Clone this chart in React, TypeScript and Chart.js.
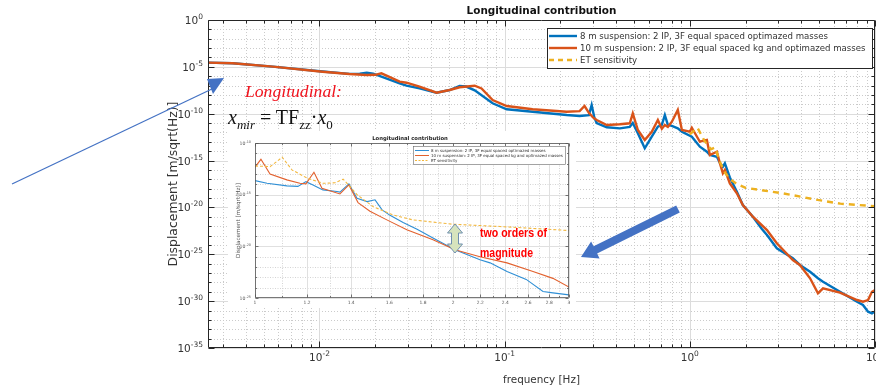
import React, { useEffect, useRef } from "react";
import { Chart, registerables } from "chart.js";

Chart.register(...registerables);

// ---------------- text ----------------
const TITLE = "Longitudinal contribution";
const X_TITLE = "frequency [Hz]";
const Y_TITLE = "Displacement [m/sqrt(Hz)]";
const SERIES_NAMES = [
  "8 m suspension: 2 IP, 3F equal spaced optimazed masses",
  "10 m suspension: 2 IP, 3F equal spaced kg and optimazed masses",
  "ET sensitivity",
];

// ---------------- main axes ----------------
const MAIN_X_MIN = 0.0025;
const MAIN_X_MAX = 10;
const MAIN_Y_MIN_EXP = -35;
const MAIN_Y_MAX_EXP = 0;
const MAIN_X_TICK_EXPS = [-2, -1, 0, 1];
const MAIN_Y_TICK_EXPS = [0, -5, -10, -15, -20, -25, -30, -35];

// ---------------- main data (frequency in Hz, displacement as power of ten) ----------------
const blueFreq = [0.0025, 0.0034, 0.0056, 0.0104, 0.0145, 0.0165, 0.018, 0.0195, 0.0216, 0.0271, 0.0295, 0.0347, 0.0429, 0.0505, 0.0571, 0.062, 0.0689, 0.0861, 0.1026, 0.1416, 0.2163, 0.254, 0.285, 0.295, 0.305, 0.314, 0.356, 0.419, 0.474, 0.492, 0.524, 0.571, 0.623, 0.672, 0.706, 0.733, 0.761, 0.8, 0.861, 0.906, 1.025, 1.133, 1.236, 1.283, 1.4, 1.453, 1.508, 1.546, 1.645, 1.795, 1.933, 2.19, 2.45, 2.61, 2.95, 3.6, 3.93, 4.46, 4.92, 5.24, 6.47, 8.0, 8.61, 9.17, 9.63, 10];
const blueExp = [-4.55, -4.62, -4.98, -5.5, -5.75, -5.72, -5.62, -5.72, -6.03, -6.76, -7.0, -7.29, -7.76, -7.47, -7.04, -7.1, -7.5, -8.89, -9.53, -9.79, -10.14, -10.24, -10.15, -9.07, -10.4, -11.0, -11.45, -11.56, -11.4, -11.0, -12.09, -13.69, -12.45, -11.39, -11.2, -10.14, -11.2, -11.3, -11.56, -11.92, -12.45, -13.52, -14.05, -14.41, -14.59, -15.25, -15.65, -15.3, -16.8, -18.32, -19.74, -20.99, -22.3, -22.94, -24.36, -25.43, -26.14, -26.86, -27.56, -27.93, -28.99, -30.06, -30.41, -31.13, -31.3, -31.1];

const orangeFreq = [0.0025, 0.0034, 0.0056, 0.0104, 0.0145, 0.018, 0.02, 0.0216, 0.024, 0.0271, 0.0295, 0.0347, 0.0429, 0.0505, 0.0571, 0.0689, 0.075, 0.0861, 0.1026, 0.1416, 0.2163, 0.254, 0.27, 0.285, 0.3, 0.314, 0.356, 0.419, 0.474, 0.492, 0.524, 0.571, 0.623, 0.672, 0.706, 0.733, 0.761, 0.8, 0.861, 0.906, 1.0, 1.025, 1.133, 1.236, 1.283, 1.4, 1.453, 1.508, 1.546, 1.645, 1.795, 1.933, 2.19, 2.61, 2.95, 3.6, 3.93, 4.46, 4.92, 5.24, 6.47, 8.0, 8.61, 9.17, 9.63, 10];
const orangeExp = [-4.55, -4.62, -4.98, -5.52, -5.76, -5.87, -5.85, -5.69, -6.1, -6.58, -6.69, -7.11, -7.76, -7.47, -7.18, -7.01, -7.3, -8.54, -9.18, -9.53, -9.79, -9.72, -9.18, -9.9, -10.4, -10.67, -11.2, -11.13, -11.02, -9.96, -11.74, -12.81, -11.92, -10.67, -11.6, -11.2, -11.4, -10.85, -9.6, -11.74, -11.92, -11.5, -12.99, -12.8, -14.41, -14.05, -15.29, -16.36, -16.0, -17.43, -18.49, -19.74, -20.99, -22.41, -23.83, -25.61, -26.14, -27.56, -29.16, -28.63, -29.1, -29.88, -30.06, -29.88, -29.0, -28.81];

const etFreq = [1.0, 1.1, 1.2, 1.3, 1.37, 1.45, 1.55, 1.65, 1.8, 2.0, 2.5, 3.2, 4.9, 6.5, 10];
const etExp = [-12.2, -11.5, -12.9, -13.8, -13.6, -15.1, -16.3, -17.0, -17.5, -17.9, -18.2, -18.5, -19.2, -19.6, -19.87];

// ---------------- inset (zoom 1 Hz .. 3 Hz) ----------------
const INSET_X_MIN = 1;
const INSET_X_MAX = 3;
const INSET_Y_MIN_EXP = -25;
const INSET_Y_MAX_EXP = -10;
const INSET_X_TICKS = [1, 1.2, 1.4, 1.6, 1.8, 2, 2.2, 2.4, 2.6, 2.8, 3];
const INSET_X_TICK_LABELS = ["1", "1.2", "1.4", "1.6", "1.8", "2", "2.2", "2.4", "2.6", "2.8", "3"];
const INSET_Y_TICK_EXPS = [-10, -15, -20, -25];

const insetBlueFreq = [1.0, 1.043, 1.118, 1.162, 1.195, 1.225, 1.268, 1.332, 1.346, 1.389, 1.429, 1.48, 1.522, 1.56, 1.604, 1.679, 1.763, 1.864, 2.013, 2.197, 2.276, 2.415, 2.583, 2.739, 2.836, 3.0];
const insetBlueExp = [-13.64, -13.9, -14.15, -14.2, -13.74, -14.06, -14.54, -14.7, -14.75, -13.96, -15.35, -15.67, -15.5, -16.47, -17.0, -17.7, -18.35, -19.2, -20.34, -21.3, -21.6, -22.43, -23.2, -24.37, -24.5, -24.7];
const insetOrangeFreq = [1.0, 1.021, 1.054, 1.118, 1.17, 1.195, 1.229, 1.264, 1.346, 1.389, 1.434, 1.495, 1.586, 1.701, 1.864, 2.013, 2.197, 2.415, 2.645, 2.836, 3.0];
const insetOrangeExp = [-12.35, -11.58, -13.0, -13.57, -13.9, -13.96, -12.83, -14.38, -14.93, -14.06, -15.77, -16.6, -17.44, -18.4, -19.37, -20.34, -21.0, -21.6, -22.43, -23.1, -23.94];
const insetEtFreq = [1.0, 1.054, 1.1, 1.138, 1.2, 1.268, 1.323, 1.361, 1.394, 1.429, 1.511, 1.621, 1.737, 1.995, 2.356, 3.0];
const insetEtExp = [-12.22, -12.29, -11.38, -12.6, -13.4, -13.9, -13.85, -13.5, -14.2, -15.0, -16.15, -16.96, -17.44, -17.86, -18.08, -18.47];

// ---------------- annotation text ----------------
const NOTE_TITLE = "Longitudinal:";
const NOTE_LINES = ["two orders of", "magnitude"];

// ---------------- styles ----------------
const BLUE = "#0072BD";
const ORANGE = "#D95319";
const YELLOW = "#EDB120";
const INSET_BLUE = "#2F8FD5";
const INSET_ORANGE = "#E2612E";
const INSET_YELLOW = "#F2B840";
const ARROW_BLUE = "#4472C4";
const TEXT = "#333333";
const SANS = '"DejaVu Sans", sans-serif';

const toPoints = (f: number[], e: number[]) => f.map((x, i) => ({ x, y: Math.pow(10, e[i]) }));

function decadeMinor(minV: number, maxV: number, d0: number, d1: number) {
  const out: number[] = [];
  for (let d = d0; d <= d1; d++) for (let k = 2; k <= 9; k++) {
    const v = k * Math.pow(10, d);
    if (v > minV && v < maxV) out.push(v);
  }
  return out;
}

function px(chart: any, axis: string, v: number) {
  return Math.round(chart.scales[axis].getPixelForValue(v)) + 0.5;
}

type St = { major: string; minor: string; dash: number[]; axis: string; axisW: number; tMaj: number; tMin: number };
type Ticks = { xMaj: number[]; xMin: number[]; yMaj: number[]; yMin: number[] };

function drawGrid(chart: any, t: Ticks, st: St) {
  const { ctx, chartArea: a } = chart;
  ctx.save();
  ctx.lineWidth = 1;
  ctx.strokeStyle = st.minor;
  ctx.setLineDash(st.dash);
  ctx.beginPath();
  t.xMin.forEach((v) => { const p = px(chart, "x", v); ctx.moveTo(p, a.top); ctx.lineTo(p, a.bottom); });
  t.yMin.forEach((v) => { const p = px(chart, "y", v); ctx.moveTo(a.left, p); ctx.lineTo(a.right, p); });
  ctx.stroke();
  ctx.setLineDash([]);
  ctx.strokeStyle = st.major;
  ctx.beginPath();
  t.xMaj.forEach((v) => { const p = px(chart, "x", v); ctx.moveTo(p, a.top); ctx.lineTo(p, a.bottom); });
  t.yMaj.forEach((v) => { const p = px(chart, "y", v); ctx.moveTo(a.left, p); ctx.lineTo(a.right, p); });
  ctx.stroke();
  ctx.restore();
}

function drawFrame(chart: any, t: Ticks, st: St) {
  const { ctx, chartArea: a } = chart;
  const L = Math.round(a.left) + 0.5, R = Math.round(a.right) - 0.5;
  const T = Math.round(a.top) + 0.5, B = Math.round(a.bottom) - 0.5;
  ctx.save();
  ctx.strokeStyle = st.axis;
  ctx.lineWidth = st.axisW;
  ctx.beginPath();
  ctx.rect(L, T, R - L, B - T);
  const tick = (vals: number[], len: number, axis: string) =>
    vals.forEach((v) => {
      const p = px(chart, axis, v);
      if (axis === "x") { ctx.moveTo(p, B); ctx.lineTo(p, B - len); ctx.moveTo(p, T); ctx.lineTo(p, T + len); }
      else { ctx.moveTo(L, p); ctx.lineTo(L + len, p); ctx.moveTo(R, p); ctx.lineTo(R - len, p); }
    });
  tick(t.xMaj, st.tMaj, "x"); tick(t.xMin, st.tMin, "x");
  tick(t.yMaj, st.tMaj, "y"); tick(t.yMin, st.tMin, "y");
  ctx.stroke();
  ctx.restore();
}

function fitSize(ctx: any, text: string, target: number, weight: string) {
  ctx.font = `${weight} 20px ${SANS}`;
  return (20 * target) / ctx.measureText(text).width;
}

function drawPow(ctx: any, exp: string, x: number, y: number, align: string, bs: number, es: number, rise: number) {
  ctx.font = `${bs}px ${SANS}`;
  const wb = ctx.measureText("10").width;
  ctx.font = `${es}px ${SANS}`;
  const we = ctx.measureText(exp).width;
  const x0 = align === "right" ? x - wb - we : x - (wb + we) / 2;
  ctx.textAlign = "left";
  ctx.font = `${bs}px ${SANS}`;
  ctx.fillText("10", x0, y);
  ctx.font = `${es}px ${SANS}`;
  ctx.fillText(exp, x0 + wb, y - rise);
}

type LegendSpec = {
  x: number; y: number; w: number; h: number; rowY: number[]; lx0: number; lx1: number; tx: number;
  fitTarget: number; colors: string[]; widths: number[]; dash: number[]; frame: string; frameW: number;
};

function drawLegend(ctx: any, s: LegendSpec) {
  ctx.save();
  ctx.fillStyle = "#ffffff";
  ctx.fillRect(s.x, s.y, s.w, s.h);
  ctx.strokeStyle = s.frame;
  ctx.lineWidth = s.frameW;
  ctx.strokeRect(s.x + 0.5, s.y + 0.5, s.w - 1, s.h - 1);
  const size = fitSize(ctx, SERIES_NAMES[1], s.fitTarget, "normal");
  SERIES_NAMES.forEach((name, i) => {
    const y = s.rowY[i];
    ctx.beginPath();
    ctx.strokeStyle = s.colors[i];
    ctx.lineWidth = s.widths[i];
    ctx.setLineDash(i === 2 ? s.dash : []);
    ctx.moveTo(s.lx0, y);
    ctx.lineTo(s.lx1, y);
    ctx.stroke();
    ctx.setLineDash([]);
    ctx.fillStyle = TEXT;
    ctx.font = `${size}px ${SANS}`;
    ctx.textAlign = "left";
    ctx.textBaseline = "middle";
    ctx.fillText(name, s.tx, y + 0.5);
  });
  ctx.restore();
}

// ---------------- main chart ----------------
const MAIN_STYLE: St = { major: "#dcdcdc", minor: "#cbcbcb", dash: [1, 2], axis: "#262626", axisW: 1, tMaj: 6, tMin: 3 };

function mainTicks(): Ticks {
  const yMaj = MAIN_Y_TICK_EXPS.map((e) => Math.pow(10, e));
  const yMin: number[] = [];
  for (let e = MAIN_Y_MAX_EXP - 1; e > MAIN_Y_MIN_EXP; e--) if (e % 5 !== 0) yMin.push(Math.pow(10, e));
  return {
    xMaj: MAIN_X_TICK_EXPS.map((e) => Math.pow(10, e)),
    xMin: decadeMinor(MAIN_X_MIN, MAIN_X_MAX, -3, 0),
    yMaj, yMin,
  };
}

const mainPlugin = {
  id: "mainDecor",
  beforeDatasetsDraw(chart: any) {
    drawGrid(chart, mainTicks(), MAIN_STYLE);
  },
  afterDatasetsDraw(chart: any) {
    const { ctx, chartArea: a } = chart;
    drawFrame(chart, mainTicks(), MAIN_STYLE);
    ctx.save();
    ctx.fillStyle = TEXT;
    ctx.textBaseline = "alphabetic";
    MAIN_Y_TICK_EXPS.forEach((e) =>
      drawPow(ctx, String(e), 203, chart.scales.y.getPixelForValue(Math.pow(10, e)) + 4, "right", 10.5, 7.5, 5));
    MAIN_X_TICK_EXPS.forEach((e) =>
      drawPow(ctx, String(e), chart.scales.x.getPixelForValue(Math.pow(10, e)), 361, "center", 10.5, 7.5, 5));
    // title
    const ts = fitSize(ctx, TITLE, 150, "bold");
    ctx.font = `bold ${ts}px ${SANS}`;
    ctx.textAlign = "center";
    ctx.fillStyle = "#111111";
    ctx.fillText(TITLE, (a.left + a.right) / 2, 14);
    // x title
    ctx.fillStyle = TEXT;
    const xs = fitSize(ctx, X_TITLE, 77, "normal");
    ctx.font = `${xs}px ${SANS}`;
    ctx.fillText(X_TITLE, (a.left + a.right) / 2, 383);
    // y title
    const ys = fitSize(ctx, Y_TITLE, 165, "normal");
    ctx.font = `${ys}px ${SANS}`;
    ctx.translate(177, (a.top + a.bottom) / 2);
    ctx.rotate(-Math.PI / 2);
    ctx.fillText(Y_TITLE, 0, 0);
    ctx.restore();
    drawLegend(ctx, {
      x: 547, y: 28, w: 326, h: 41, rowY: [36, 48, 60], lx0: 549, lx1: 577, tx: 580, fitTarget: 286,
      colors: [BLUE, ORANGE, YELLOW], widths: [2.4, 2.4, 2.4], dash: [5, 4], frame: "#262626", frameW: 1,
    });
  },
};

// ---------------- inset chart ----------------
const INSET_STYLE: St = { major: "#e0e0e0", minor: "#d4d4d4", dash: [1, 1.5], axis: "#555555", axisW: 0.8, tMaj: 3, tMin: 1.5 };

function insetTicks(): Ticks {
  const yMaj = INSET_Y_TICK_EXPS.map((e) => Math.pow(10, e));
  const yMin: number[] = [];
  for (let e = INSET_Y_MAX_EXP - 1; e > INSET_Y_MIN_EXP; e--) if (e % 5 !== 0) yMin.push(Math.pow(10, e));
  const xMin: number[] = [];
  for (let i = 0; i < INSET_X_TICKS.length - 1; i++) xMin.push((INSET_X_TICKS[i] + INSET_X_TICKS[i + 1]) / 2);
  return { xMaj: INSET_X_TICKS, xMin, yMaj, yMin };
}

const insetPlugin = {
  id: "insetDecor",
  beforeDraw(chart: any) {
    const { ctx, width, height } = chart;
    ctx.save();
    ctx.fillStyle = "#ffffff";
    ctx.fillRect(0, 0, width, height);
    ctx.restore();
  },
  beforeDatasetsDraw(chart: any) {
    drawGrid(chart, insetTicks(), INSET_STYLE);
  },
  afterDatasetsDraw(chart: any) {
    const { ctx, chartArea: a } = chart;
    drawFrame(chart, insetTicks(), INSET_STYLE);
    ctx.save();
    ctx.fillStyle = "#555555";
    ctx.textBaseline = "alphabetic";
    INSET_Y_TICK_EXPS.forEach((e) =>
      drawPow(ctx, String(e), 23, chart.scales.y.getPixelForValue(Math.pow(10, e)) + 1.5, "right", 4.6, 3.4, 2));
    ctx.font = `4.4px ${SANS}`;
    ctx.textAlign = "center";
    INSET_X_TICKS.forEach((v, i) => ctx.fillText(INSET_X_TICK_LABELS[i], chart.scales.x.getPixelForValue(v), 173));
    const ts = fitSize(ctx, TITLE, 76, "bold");
    ctx.font = `bold ${ts}px ${SANS}`;
    ctx.fillStyle = "#222222";
    ctx.fillText(TITLE, (a.left + a.right) / 2 - 2, 9);
    ctx.fillStyle = "#555555";
    const ys = fitSize(ctx, Y_TITLE, 75, "normal");
    ctx.font = `${ys}px ${SANS}`;
    ctx.translate(12, (a.top + a.bottom) / 2);
    ctx.rotate(-Math.PI / 2);
    ctx.fillText(Y_TITLE, 0, 0);
    ctx.restore();
    drawLegend(ctx, {
      x: 185, y: 15, w: 153, h: 19, rowY: [19.5, 24.5, 29.5], lx0: 187, lx1: 201, tx: 203, fitTarget: 132,
      colors: [INSET_BLUE, INSET_ORANGE, INSET_YELLOW], widths: [1, 1, 1], dash: [2, 1.5], frame: "#666666", frameW: 0.6,
    });
  },
};

function lineDs(label: string, data: any[], color: string, width: number, order: number, dash?: number[]) {
  return {
    label, data, borderColor: color, backgroundColor: color, borderWidth: width, borderDash: dash || [],
    pointRadius: 0, tension: 0, fill: false, order,
  };
}

function arrowPoints(x0: number, y0: number, x1: number, y1: number, headLen: number, headHalf: number, shaftHalf: number) {
  const dx = x1 - x0, dy = y1 - y0, len = Math.hypot(dx, dy);
  const ux = dx / len, uy = dy / len, nx = -uy, ny = ux;
  const bx = x1 - ux * headLen, by = y1 - uy * headLen;
  const pts = [
    [x0 + nx * shaftHalf, y0 + ny * shaftHalf],
    [bx + nx * shaftHalf, by + ny * shaftHalf],
    [bx + nx * headHalf, by + ny * headHalf],
    [x1, y1],
    [bx - nx * headHalf, by - ny * headHalf],
    [bx - nx * shaftHalf, by - ny * shaftHalf],
    [x0 - nx * shaftHalf, y0 - ny * shaftHalf],
  ];
  return pts.map((p) => p.map((v) => v.toFixed(1)).join(",")).join(" ");
}

function doubleArrow(cx: number, y0: number, y1: number, hh: number, sh: number, head: number) {
  const pts = [
    [cx, y0], [cx + hh, y0 + head], [cx + sh, y0 + head], [cx + sh, y1 - head], [cx + hh, y1 - head],
    [cx, y1], [cx - hh, y1 - head], [cx - sh, y1 - head], [cx - sh, y0 + head], [cx - hh, y0 + head],
  ];
  return pts.map((p) => p.join(",")).join(" ");
}

export default function App() {
  const mainRef = useRef<HTMLCanvasElement>(null);
  const insetRef = useRef<HTMLCanvasElement>(null);

  useEffect(() => {
    const main = new Chart(mainRef.current as HTMLCanvasElement, {
      type: "line",
      data: {
        datasets: [
          lineDs(SERIES_NAMES[0], toPoints(blueFreq, blueExp), BLUE, 2.4, 2),
          lineDs(SERIES_NAMES[1], toPoints(orangeFreq, orangeExp), ORANGE, 2.4, 1),
          lineDs(SERIES_NAMES[2], toPoints(etFreq, etExp), YELLOW, 2.4, 0, [6, 5]),
        ] as any,
      },
      options: {
        responsive: false,
        animation: false,
        devicePixelRatio: 1,
        events: [],
        layout: { padding: { left: 208, top: 20, right: 1, bottom: 41 } },
        scales: {
          x: { type: "logarithmic", min: MAIN_X_MIN, max: MAIN_X_MAX, display: false },
          y: { type: "logarithmic", min: Math.pow(10, MAIN_Y_MIN_EXP), max: Math.pow(10, MAIN_Y_MAX_EXP), display: false },
        },
        plugins: { legend: { display: false }, tooltip: { enabled: false }, title: { display: false } },
      } as any,
      plugins: [mainPlugin],
    });

    const inset = new Chart(insetRef.current as HTMLCanvasElement, {
      type: "line",
      data: {
        datasets: [
          lineDs(SERIES_NAMES[0], toPoints(insetBlueFreq, insetBlueExp), INSET_BLUE, 1.1, 2),
          lineDs(SERIES_NAMES[1], toPoints(insetOrangeFreq, insetOrangeExp), INSET_ORANGE, 1.1, 1),
          lineDs(SERIES_NAMES[2], toPoints(insetEtFreq, insetEtExp), INSET_YELLOW, 1.1, 0, [3, 2]),
        ] as any,
      },
      options: {
        responsive: false,
        animation: false,
        devicePixelRatio: 1,
        events: [],
        layout: { padding: { left: 27, top: 12, right: 7, bottom: 10 } },
        scales: {
          x: { type: "logarithmic", min: INSET_X_MIN, max: INSET_X_MAX, display: false },
          y: { type: "logarithmic", min: Math.pow(10, INSET_Y_MIN_EXP), max: Math.pow(10, INSET_Y_MAX_EXP), display: false },
        },
        plugins: { legend: { display: false }, tooltip: { enabled: false }, title: { display: false } },
      } as any,
      plugins: [insetPlugin],
    });

    return () => {
      main.destroy();
      inset.destroy();
    };
  }, []);

  return (
    <div style={{ position: "fixed", left: 0, top: 0, width: 876, height: 389, background: "#ffffff", overflow: "hidden" }}>
      <canvas ref={mainRef} width={876} height={389} style={{ position: "absolute", left: 0, top: 0, width: 876, height: 389 }} />
      <canvas ref={insetRef} width={348} height={177} style={{ position: "absolute", left: 228, top: 131, width: 348, height: 177 }} />
      <svg width={876} height={389} style={{ position: "absolute", left: 0, top: 0 }}>
        <line x1={12} y1={184} x2={214} y2={88} stroke={ARROW_BLUE} strokeWidth={1.2} />
        <polygon points="207,79 224,78 213,94" fill={ARROW_BLUE} />
        <polygon points={arrowPoints(678, 209, 581, 257, 16, 9.5, 4)} fill={ARROW_BLUE} />
        <polygon points={doubleArrow(455, 224, 253, 7.5, 3.5, 9)} fill="#D7E4BD" stroke="#6F8FAF" strokeWidth={1} />
        <text x={245} y={97} fill="#F0141E" fontFamily='"Liberation Serif", serif' fontStyle="italic" fontSize={17.5}
          textLength={97} lengthAdjust="spacingAndGlyphs">{NOTE_TITLE}</text>
        <text x={228} y={124} fill="#111111" fontFamily='"Liberation Serif", serif' fontSize={20} style={{ whiteSpace: "pre" }}>
          <tspan fontStyle="italic">x</tspan>
          <tspan fontStyle="italic" fontSize={13} dy={5}>mir</tspan>
          <tspan dy={-5}>{" = TF"}</tspan>
          <tspan fontSize={13} dy={5}>zz</tspan>
          <tspan dy={-5}>{"\u00B7"}</tspan>
          <tspan fontStyle="italic">x</tspan>
          <tspan fontSize={13} dy={5}>0</tspan>
        </text>
        <text x={480} y={237} fill="#FF0000" fontFamily='"Liberation Sans", sans-serif' fontWeight="bold" fontSize={12}
          textLength={67} lengthAdjust="spacingAndGlyphs">{NOTE_LINES[0]}</text>
        <text x={480} y={257} fill="#FF0000" fontFamily='"Liberation Sans", sans-serif' fontWeight="bold" fontSize={12}
          textLength={53} lengthAdjust="spacingAndGlyphs">{NOTE_LINES[1]}</text>
      </svg>
    </div>
  );
}
